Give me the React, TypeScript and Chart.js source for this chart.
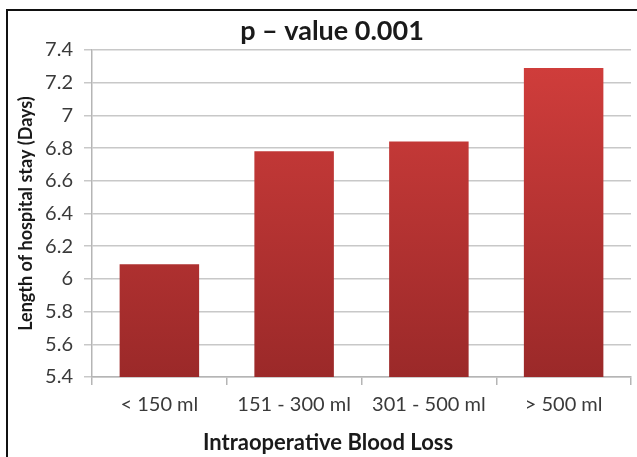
import React, { useEffect, useRef } from "react";
import { Chart, registerables } from "chart.js";

Chart.register(...registerables);

const categories = ["< 150 ml", "151 - 300 ml", "301 - 500 ml", "> 500 ml"];
const stayDays = [6.09, 6.78, 6.84, 7.29];
const yMin = 5.4;
const yMax = 7.4;
const yStep = 0.2;
const chartTitle = "p \u2013 value 0.001";
const xTitle = "Intraoperative Blood Loss";
const yTitle = "Length of hospital stay (Days)";

const FONT = "Lato, 'Open Sans', 'DejaVu Sans', sans-serif";

const decorPlugin = {
  id: "decor",
  beforeDraw(chart: any) {
    const ctx = chart.ctx;
    ctx.save();
    ctx.fillStyle = "#ffffff";
    ctx.fillRect(0, 0, chart.width, chart.height);
    ctx.restore();
  },
  afterDraw(chart: any) {
    const ctx = chart.ctx;
    ctx.save();
    ctx.strokeStyle = "#111111";
    ctx.lineWidth = 2;
    ctx.strokeRect(7, 10, 700, 500);
    ctx.fillStyle = "#1a1a1a";
    ctx.textAlign = "center";
    ctx.textBaseline = "alphabetic";
    ctx.font = `bold 27px ${FONT}`;
    ctx.fillText(chartTitle, 332, 40);
    ctx.font = `bold 22px ${FONT}`;
    ctx.fillText(xTitle, 328, 450);
    ctx.restore();
  },
};

export default function App() {
  const ref = useRef<HTMLCanvasElement | null>(null);

  useEffect(() => {
    if (!ref.current) return;
    const chart = new Chart(ref.current, {
      type: "bar",
      data: {
        labels: categories,
        datasets: [
          {
            data: stayDays,
            backgroundColor: (c: any) => {
              const area = c.chart.chartArea;
              if (!area) return "#c33";
              const g = c.chart.ctx.createLinearGradient(0, area.top, 0, area.bottom);
              g.addColorStop(0, "#d23e3c");
              g.addColorStop(1, "#9b2929");
              return g;
            },
            borderWidth: 0,
            barPercentage: 0.59,
            categoryPercentage: 1,
          },
        ],
      },
      options: {
        animation: false,
        responsive: false,
        devicePixelRatio: 1,
        layout: { padding: { top: 50, right: 6, left: 0, bottom: 0 } },
        plugins: {
          legend: { display: false },
          title: { display: false },
          tooltip: { enabled: false },
        },
        scales: {
          x: {
            offset: true,
            grid: {
              offset: true,
              drawOnChartArea: false,
              drawTicks: true,
              tickLength: 8,
              color: "#b5b5b5",
              lineWidth: 1.5,
            },
            border: { display: true, color: "#b5b5b5", width: 1.5 },
            ticks: {
              color: "#3a3a3a",
              font: { family: FONT, size: 20 },
              padding: 8,
              maxRotation: 0,
              autoSkip: false,
            },
            afterFit: (s: any) => {
              s.height = 80;
            },
          },
          y: {
            min: yMin,
            max: yMax,
            grid: {
              color: "#c8c8c8",
              lineWidth: 1.5,
              drawTicks: true,
              tickLength: 8,
            },
            border: { display: true, color: "#b5b5b5", width: 1.5 },
            ticks: {
              stepSize: yStep,
              color: "#3a3a3a",
              font: { family: FONT, size: 20 },
              padding: 11,
              callback: (v: any) => String(Number(Number(v).toFixed(1))),
            },
            title: {
              display: true,
              text: yTitle,
              color: "#1a1a1a",
              font: { family: FONT, size: 18, weight: "bold" },
              padding: { top: 15, bottom: 0 },
            },
            afterFit: (s: any) => {
              s.width = 92;
            },
          },
        },
      },
      plugins: [decorPlugin],
    });
    return () => chart.destroy();
  }, []);

  return (
    <canvas
      ref={ref}
      width={637}
      height={457}
      style={{ position: "fixed", left: 0, top: 0, width: 637, height: 457 }}
    />
  );
}
